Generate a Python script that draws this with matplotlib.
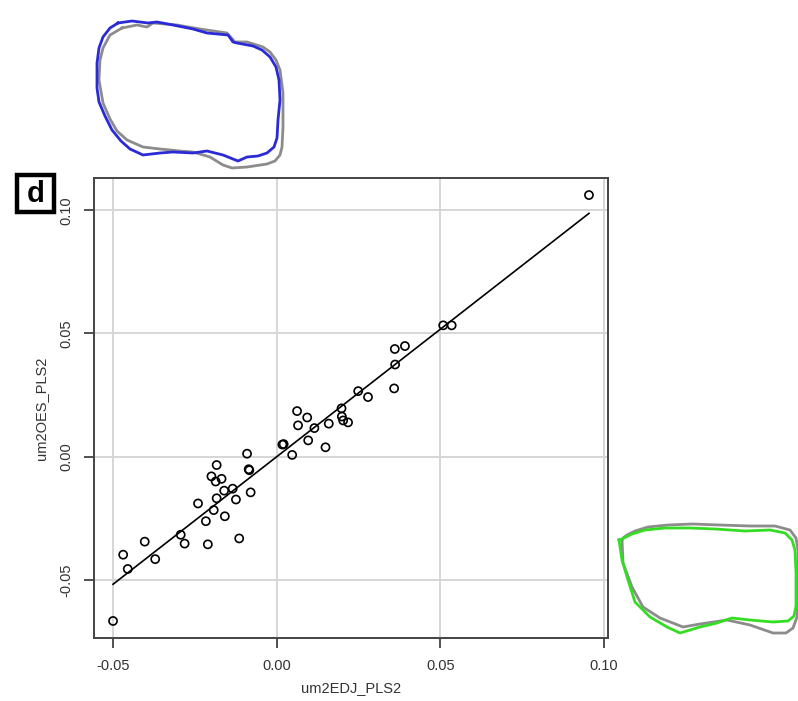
import matplotlib.pyplot as plt
import numpy as np
from matplotlib.patches import Rectangle

plt.rcParams['font.family'] = ['Liberation Sans', 'DejaVu Sans']

# PLS2 scores: um2EDJ (x) vs um2OES (y)
edj = [0.0955, 0.0509, 0.0535, 0.0361, 0.0392, 0.0362, 0.0359, 0.0249,
       0.0279, 0.0198, 0.0062, 0.0093, 0.0199, 0.0203, 0.0218, 0.0159,
       0.0065, 0.0115, 0.0017, 0.0021, 0.0096, 0.0047, 0.0149, -0.0091,
       -0.0086, -0.0084, -0.0184, -0.0200, -0.0187, -0.0169, -0.0161, -0.0135,
       -0.0080, -0.0184, -0.0125, -0.0241, -0.0193, -0.0159, -0.0217, -0.0294,
       -0.0282, -0.0211, -0.0404, -0.0470, -0.0372, -0.0456, -0.0501, -0.0115]
oes = [0.1062, 0.0533, 0.0533, 0.0437, 0.0449, 0.0374, 0.0277, 0.0266,
       0.0242, 0.0196, 0.0185, 0.0159, 0.0163, 0.0147, 0.0139, 0.0134,
       0.0127, 0.0116, 0.0049, 0.0051, 0.0066, 0.0007, 0.0038, 0.0012,
       -0.0051, -0.0055, -0.0034, -0.0080, -0.0101, -0.0090, -0.0138, -0.0130,
       -0.0145, -0.0169, -0.0174, -0.0190, -0.0217, -0.0242, -0.0262, -0.0317,
       -0.0353, -0.0356, -0.0345, -0.0398, -0.0416, -0.0456, -0.0667, -0.0332]
ticks = [-0.05, 0.00, 0.05, 0.10]
tick_labels = ["-0.05", "0.00", "0.05", "0.10"]

# outline shapes drawn around the panel (figure pixel coordinates)
blue_x = [118, 132, 148, 157, 173, 193, 207, 228, 233, 237, 253, 262, 270, 276, 279,
          280, 278, 277, 274, 267, 258, 247, 238, 223, 207, 193, 173, 160, 143, 130,
          121, 112, 105, 99, 97, 97, 99, 103, 110, 118]
blue_y = [23, 21, 23, 22, 25, 29, 33, 35, 42, 43, 46, 50, 57, 67, 80,
          100, 120, 138, 147, 153, 156, 157, 161, 155, 151, 153, 152, 153, 155, 149,
          141, 130, 116, 102, 88, 63, 48, 37, 28, 23]
grey1_x = [122, 137, 147, 153, 177, 200, 227, 235, 247, 263, 270, 276, 280, 283, 283,
           282, 280, 275, 267, 247, 232, 223, 210, 193, 180, 160, 143, 127, 117, 110,
           103, 99, 100, 103, 110, 122]
grey1_y = [28, 25, 27, 23, 25, 29, 33, 42, 42, 47, 52, 60, 70, 93, 127,
           147, 155, 161, 164, 167, 168, 165, 157, 152, 151, 149, 147, 140, 131, 119,
           103, 80, 60, 48, 35, 28]
green_x = [619, 622, 628, 635, 650, 667, 680, 700, 717, 732, 750, 773, 788, 794, 796,
           796, 795, 792, 785, 770, 745, 715, 690, 665, 645, 632, 624, 620, 619]
green_y = [540, 560, 580, 602, 617, 627, 633, 627, 623, 618, 620, 622, 621, 616, 606,
           573, 550, 540, 533, 530, 531, 529, 528, 528, 530, 534, 538, 540, 540]
grey2_x = [622, 623, 632, 643, 660, 683, 700, 727, 750, 773, 786, 793, 797, 798, 798,
           796, 790, 775, 750, 720, 692, 668, 648, 635, 627, 623, 622]
grey2_y = [540, 563, 587, 607, 618, 627, 624, 620, 625, 633, 633, 628, 617, 590, 550,
           538, 530, 526, 526, 525, 524, 525, 527, 531, 535, 538, 540]

W, H = 798, 701
fig = plt.figure(figsize=(W / 100, H / 100), dpi=100)
ax = fig.add_axes([94 / W, 1 - 638 / H, 514 / W, 460 / H])

x = np.array(edj)
y = np.array(oes)
slope, intercept = np.polyfit(x, y, 1)
xs = np.array([x.min(), x.max()])

ax.set_xticks(ticks)
ax.set_yticks(ticks)
ax.grid(True, color="#d6d6d6", linewidth=1.4)
ax.set_axisbelow(True)
ax.plot(xs, intercept + slope * xs, color="black", linewidth=1.2, zorder=3)
ax.scatter(x, y, s=34, facecolors="none", edgecolors="black", linewidths=1.2, zorder=4)

pad_x = 0.04 * (x.max() - x.min())
pad_y = 0.04 * (y.max() - y.min())
ax.set_xlim(x.min() - pad_x, x.max() + pad_x)
ax.set_ylim(y.min() - pad_y, y.max() + pad_y)

ax.set_xticklabels(tick_labels, fontsize=10.5, color="#333333")
ax.set_yticklabels(tick_labels, fontsize=10.5, color="#333333", rotation=90, va="center")
ax.tick_params(direction="out", length=7, width=1.2, color="#333333", pad=8)
for sp in ax.spines.values():
    sp.set_color("#444444")
    sp.set_linewidth(1.4)
ax.set_xlabel("um2EDJ_PLS2", fontsize=10.5, color="#333333", labelpad=6)
ax.set_ylabel("um2OES_PLS2", fontsize=10.5, color="#333333", labelpad=8)

# outline overlays plus the panel letter, in pixel space
ov = fig.add_axes([0, 0, 1, 1], zorder=-1)
ov.set_xlim(0, W)
ov.set_ylim(H, 0)
ov.axis("off")
ov.plot(grey1_x, grey1_y, color="#8c8c8c", linewidth=2)
ov.plot(blue_x, blue_y, color="#2a2ad8", linewidth=2)
ov.plot(grey2_x, grey2_y, color="#8c8c8c", linewidth=2)
ov.plot(green_x, green_y, color="#33dd22", linewidth=2)

ov.add_patch(Rectangle((17, 175), 37, 37, facecolor="white",
                       edgecolor="black", linewidth=3.2))
ov.text(35.5, 194, "d", fontsize=21, fontweight="bold", ha="center", va="center")

fig.savefig("out.png", dpi=100)
